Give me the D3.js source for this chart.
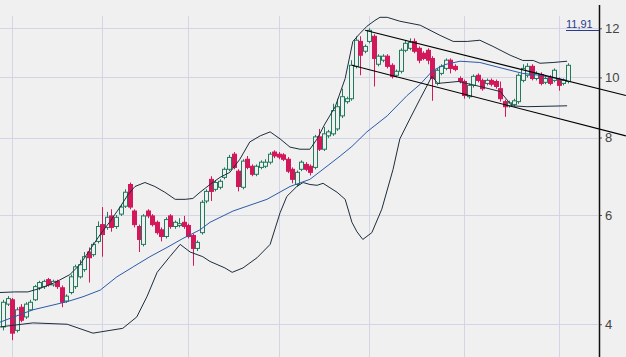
<!DOCTYPE html>
<html><head><meta charset="utf-8">
<script src="https://cdn.jsdelivr.net/npm/d3@7"></script>
<style>html,body{margin:0;padding:0;background:#f0f0f0;} svg{display:block}</style>
</head><body>
<svg id="chart" width="626" height="357"></svg>
<script>
// ---- data (candle index = trading day) ----
const open = [3.96,4.31,4.38,3.91,4.26,4.11,4.22,4.38,4.58,4.60, 4.72,4.63,4.69,4.58,4.36,4.50,4.60,4.77,4.90,5.23,
 5.18,5.44,5.79,5.73,5.98,5.75,6.02,6.20,6.72,6.09, 5.75,5.38,6.09,5.98,5.84,5.68,5.54,5.98,5.75,5.77,
 5.84,5.77,5.56,5.30,5.62,6.32,6.85,6.60,6.65,6.90, 7.11,7.52,7.06,6.65,7.38,7.19,6.98,7.16,7.19,7.30,
 7.58,7.52,7.50,7.38,7.11,6.72,7.11,7.24,7.19,7.16, 8.02,7.66,8.05,8.11,8.26,8.67,9.14,9.24,10.42,11.43,
 11.02,11.43,11.65,10.50,10.66,10.82,10.46,10.08,10.23,11.06, 11.14,11.43,11.14,10.94,11.06,10.73,9.78,10.15,10.34,10.66,
 10.42,9.96,9.85,9.31,9.71,10.08,9.89,9.78,9.89,9.85, 9.59,9.14,9.00,9.04,9.14,9.89,10.08,10.42,9.96,10.11,
 9.82,10.00,9.89,9.92,9.78,9.85];
const high = [4.38,4.44,4.41,4.26,4.31,4.34,4.38,4.63,4.70,4.72, 4.75,4.72,4.72,4.62,4.47,4.81,4.99,5.08,5.23,5.32,
 5.42,5.86,6.18,6.07,6.13,6.00,6.23,6.60,6.77,6.13, 5.79,6.02,6.13,6.02,5.88,5.73,5.95,6.02,5.88,5.93,
 5.98,5.81,5.60,5.46,6.34,6.60,6.93,6.82,6.85,7.16, 7.50,7.58,7.11,7.38,7.47,7.24,7.24,7.35,7.38,7.58,
 7.63,7.58,7.55,7.44,7.16,7.08,7.35,7.30,7.24,8.08, 8.26,8.32,8.23,9.07,9.24,9.59,9.31,10.66,11.65,11.65,
 11.30,12.00,11.74,10.90,10.90,10.90,10.54,10.30,11.14,11.48, 11.56,11.56,11.22,11.02,11.14,10.82,10.34,10.50,10.73,10.73,
 10.50,10.04,9.92,9.78,10.11,10.15,9.96,9.96,9.96,9.92, 9.85,9.21,9.17,9.24,10.15,10.50,10.54,10.50,10.23,10.19,
 10.04,10.08,10.34,10.00,9.96,10.54];
const low = [3.91,4.28,3.77,3.88,4.03,4.08,4.20,4.36,4.54,4.56, 4.60,4.60,4.56,4.26,4.33,4.47,4.56,4.74,4.86,4.67,
 5.14,5.40,5.14,5.68,5.64,5.70,5.98,6.16,6.13,5.73, 5.23,5.34,5.93,5.75,5.58,5.44,5.50,5.70,5.70,5.73,
 5.70,5.50,4.97,5.25,5.58,6.27,6.32,6.55,6.60,6.85, 7.06,7.11,6.55,6.60,7.11,6.93,6.93,7.11,7.14,7.24,
 7.41,7.38,7.33,7.01,6.75,6.67,7.06,7.06,6.95,7.11, 7.61,7.61,7.99,8.05,8.20,8.60,9.07,9.17,10.34,10.08,
 10.94,11.35,9.67,10.42,10.58,10.34,9.96,10.00,10.15,10.98, 11.06,10.94,10.54,10.66,10.50,9.17,9.71,10.08,10.27,10.15,
 10.23,9.78,9.24,9.24,9.63,9.82,9.52,9.71,9.67,9.59, 9.14,8.64,8.94,8.97,9.07,9.82,10.00,9.89,9.89,9.71,
 9.75,9.71,9.82,9.52,9.71,9.78];
const close = [4.34,4.40,3.87,4.22,4.06,4.31,4.34,4.60,4.67,4.69, 4.63,4.69,4.60,4.34,4.44,4.77,4.95,4.99,5.14,5.12,
 5.38,5.75,5.58,5.95,5.73,5.95,6.18,6.53,6.18,5.79, 5.48,5.98,5.98,5.79,5.62,5.54,5.90,5.75,5.84,5.81,
 5.75,5.54,5.30,5.42,6.29,6.55,6.55,6.77,6.80,7.11, 7.43,7.16,6.67,7.33,7.16,6.98,7.19,7.30,7.30,7.52,
 7.47,7.44,7.38,7.06,6.85,7.03,7.30,7.11,7.03,8.02, 7.66,8.11,8.17,8.84,8.97,9.31,9.24,10.46,11.48,10.86,
 11.22,11.91,10.73,10.82,10.82,10.42,10.04,10.23,11.06,11.35, 11.39,11.02,10.66,10.73,10.66,9.96,10.27,10.42,10.66,10.34,
 10.30,9.85,9.35,9.71,10.04,9.89,9.59,9.89,9.75,9.67, 9.24,8.97,9.10,9.17,10.08,10.34,10.42,9.96,10.15,9.78,
 9.96,9.78,10.27,9.71,9.89,10.46];

const monthStarts = [2,22,41,61,81,102,123];
const yTicks = [4,6,8,10,12];

// Bollinger bands: [candle index, value]
const upperBand = [[-0.7,4.50],[2.6,4.51],[5.5,4.51],[8.2,4.57],[11.5,4.67],[14.8,4.81],[17.0,4.99],[19.2,5.27],[21.5,5.58],
 [23.7,5.86],[25.9,6.18],[27.7,6.48],[29.2,6.67],[31.4,6.77],[33.6,6.67],[35.8,6.53],[38.1,6.36],[40.3,6.36],[42.0,6.38],
 [43.6,6.53],[45.8,6.72],[48.0,6.90],[50.2,7.03],[52.4,7.38],[54.6,7.87],[56.9,8.05],[59.1,8.17],[61.3,7.96],[63.5,7.72],
 [65.7,7.66],[67.9,7.66],[69.5,7.96],[71.2,8.41],[73.5,8.97],[75.7,9.96],[77.4,11.43],[79.0,11.78],[80.5,12.09],[82.3,12.36],
 [83.4,12.50],[85.0,12.50],[87.8,12.32],[92.3,12.14],[96.7,11.69],[99.6,11.43],[102.7,11.43],[105.5,11.48],[108.4,11.22],
 [112.2,10.86],[115.0,10.65],[117.3,10.65],[118.8,10.54],[121.7,10.57],[124.8,10.62]];
const middleBand = [[-0.7,4.03],[6.6,4.22],[14.2,4.35],[17.7,4.43],[21.5,4.54],[25.2,4.77],[28.8,4.95],[32.5,5.14],[36.3,5.32],
 [39.8,5.50],[43.6,5.68],[45.8,5.84],[50.9,6.09],[58.4,6.36],[63.5,6.67],[67.9,6.85],[70.8,7.11],[74.6,7.47],[77.2,7.74],
 [80.5,8.17],[85.0,8.67],[89.4,9.35],[92.3,9.75],[95.1,10.26],[97.8,10.49],[101.1,10.62],[105.5,10.57],[110.6,10.34],
 [115.0,10.15],[118.8,10.08],[124.8,9.89]];
const lowerBand = [[-0.7,3.96],[6.6,4.02],[14.2,4.00],[19.9,3.87],[23.7,3.91],[26.5,3.94],[29.6,4.11],[31.9,4.44],[34.1,4.85],
 [36.9,5.14],[39.2,5.38],[41.4,5.23],[44.2,5.14],[45.8,5.05],[49.1,4.93],[50.7,4.85],[53.1,4.93],[56.2,5.12],[59.1,5.38],
 [61.3,6.05],[62.8,6.43],[65.0,6.67],[66.4,6.77],[67.9,6.72],[69.5,6.70],[70.8,6.75],[73.9,6.53],[75.7,6.36],[77.2,5.84],
 [78.3,5.64],[79.6,5.48],[81.6,5.62],[83.8,6.13],[86.3,7.11],[87.8,7.96],[90.0,8.57],[92.3,9.24],[94.9,10.04],[96.2,9.78],
 [100.7,9.85],[105.5,9.67],[110.0,9.49],[112.6,9.00],[115.9,8.97],[124.8,9.00]];

// trend channel
const channelUpper = [[80.1,11.91],[137.8,9.35]];
const channelLower = [[77.2,10.46],[137.8,8.05]];
const lastValue = 11.91, lastText = "11,91";

// ---- drawing ----
const svg = d3.select("#chart");
const x = d3.scaleLinear().domain([0,125]).range([3,568]);
const y = d3.scaleLog().domain([3.542,13.33]).range([357,0]);
const axisX = 599, plotTop = 16;

svg.append("rect").attr("width",626).attr("height",357).attr("fill","#f0f0f0");

const grid = svg.append("g").attr("stroke","#d3d5e6").attr("stroke-width",1);
grid.selectAll("line.h").data(yTicks).join("line").attr("class","h")
  .attr("x1",0).attr("x2",axisX-1)
  .attr("y1",d=>Math.round(y(d))+0.5).attr("y2",d=>Math.round(y(d))+0.5);
grid.selectAll("line.v").data(monthStarts).join("line").attr("class","v")
  .attr("x1",d=>Math.round(x(d))+0.5).attr("x2",d=>Math.round(x(d))+0.5)
  .attr("y1",plotTop).attr("y2",357);

const idx = d3.range(open.length);
const up = i => close[i] >= open[i];
const green = "#217a5b", red = "#d2185a";

const cg = svg.append("g");
cg.selectAll("line").data(idx).join("line")
  .attr("x1",i=>Math.round(x(i))+0.5).attr("x2",i=>Math.round(x(i))+0.5)
  .attr("y1",i=>y(high[i])).attr("y2",i=>y(low[i]))
  .attr("stroke",i=>up(i)?green:red).attr("stroke-width",1);
cg.selectAll("rect").data(idx).join("rect")
  .attr("x",i=>Math.round(x(i))-2+0.5).attr("width",4)
  .attr("y",i=>y(Math.max(open[i],close[i])))
  .attr("height",i=>Math.max(1,Math.abs(y(open[i])-y(close[i]))))
  .attr("fill",i=>up(i)?"#f0f0f0":red)
  .attr("stroke",i=>up(i)?green:red).attr("stroke-width",1);

const line = d3.line().x(d=>x(d[0])).y(d=>y(d[1]));
svg.append("path").attr("d",line(upperBand)).attr("fill","none").attr("stroke","#1c2d3c").attr("stroke-width",1);
svg.append("path").attr("d",line(lowerBand)).attr("fill","none").attr("stroke","#1c2d3c").attr("stroke-width",1);
svg.append("path").attr("d",line(middleBand)).attr("fill","none").attr("stroke","#2c5aa8").attr("stroke-width",1);

svg.append("path").attr("d",line(channelUpper)).attr("fill","none").attr("stroke","#000").attr("stroke-width",1.1);
svg.append("path").attr("d",line(channelLower)).attr("fill","none").attr("stroke","#000").attr("stroke-width",1.1);

// axis
const ax = svg.append("g").attr("transform",`translate(${axisX},0)`)
  .call(d3.axisRight(y).tickValues(yTicks).tickFormat(d3.format("d")).tickSize(3).tickPadding(3));
ax.select(".domain").remove();
ax.selectAll(".tick line").attr("stroke","#555");
ax.selectAll(".tick text").attr("fill","#444").style("font-family","'Liberation Sans', Arial, sans-serif").style("font-size","13px");
svg.append("line").attr("x1",axisX+0.5).attr("x2",axisX+0.5).attr("y1",5).attr("y2",357)
  .attr("stroke","#111").attr("stroke-width",1.5);

// last value marker
const ly = Math.round(y(lastValue))+0.5;
svg.append("line").attr("x1",566).attr("x2",axisX).attr("y1",ly).attr("y2",ly).attr("stroke","#2b3a8c").attr("stroke-width",1);
svg.append("text").attr("x",566).attr("y",ly-3).text(lastText)
  .attr("fill","#2b3a8c").style("font-family","'Liberation Sans', Arial, sans-serif").style("font-size","11px");
</script>
</body></html>
